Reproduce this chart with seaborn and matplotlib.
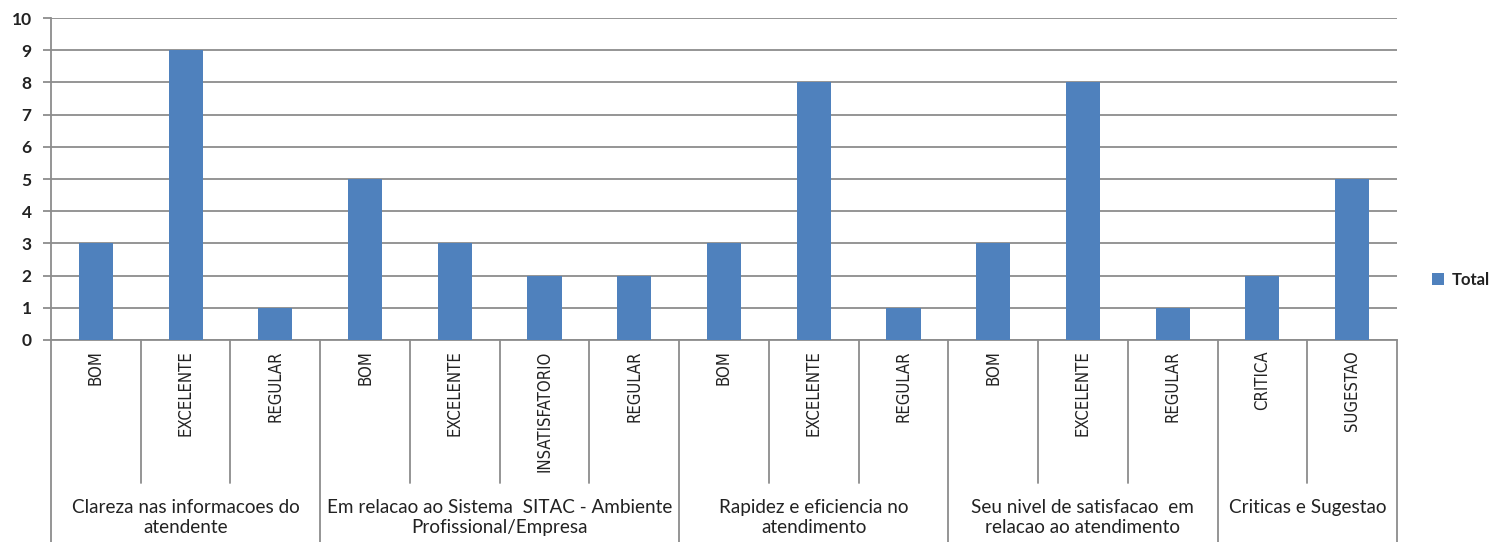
import pandas as pd
import matplotlib.pyplot as plt
import matplotlib.transforms as mtransforms
import seaborn as sns

# data
grupos = ["Clareza nas informacoes do\natendente",
          "Em relacao ao Sistema  SITAC - Ambiente\nProfissional/Empresa",
          "Rapidez e eficiencia no\natendimento",
          "Seu nivel de satisfacao  em\nrelacao ao atendimento",
          "Criticas e Sugestao"]
respostas = [["BOM", "EXCELENTE", "REGULAR"],
             ["BOM", "EXCELENTE", "INSATISFATORIO", "REGULAR"],
             ["BOM", "EXCELENTE", "REGULAR"],
             ["BOM", "EXCELENTE", "REGULAR"],
             ["CRITICA", "SUGESTAO"]]
totais = [[3, 9, 1],
          [5, 3, 2, 2],
          [3, 8, 1],
          [3, 8, 1],
          [2, 5]]

rows = []
for g, resp, tot in zip(grupos, respostas, totais):
    for r, t in zip(resp, tot):
        rows.append({"chave": g + "|" + r, "grupo": g, "resposta": r, "total": t})
df = pd.DataFrame(rows)

sns.set_style("white")
plt.rcParams['font.family'] = ['Lato', 'DejaVu Sans']

fig = plt.figure(figsize=(15.03, 5.42), dpi=100)
ax = fig.add_axes([51 / 1503, 1 - 340 / 542, (1397 - 51) / 1503, (340 - 18) / 542])

sns.barplot(data=df, x="chave", y="total", color="#4F81BD", width=0.38,
            saturation=1, label="Total", ax=ax, zorder=3, linewidth=0)

ax.set_ylim(0, 10)
ax.set_xlim(-0.5, len(df) - 0.5)
ax.set_yticks(range(0, 11))
ax.yaxis.grid(True, color="#8c8c8c", linewidth=1.3, zorder=0)
ax.set_xlabel("")
ax.set_ylabel("")
for s in ["top", "right"]:
    ax.spines[s].set_visible(False)
ax.spines["left"].set_color("#8c8c8c")
ax.spines["bottom"].set_color("#8c8c8c")
ax.spines["left"].set_linewidth(1.3)
ax.spines["bottom"].set_linewidth(1.3)
ax.tick_params(axis="y", left=True, length=6, color="#8c8c8c", width=1.3,
               labelsize=12.5, pad=8)
for lab in ax.get_yticklabels():
    lab.set_fontweight("bold")
    lab.set_color("#222222")

ax.set_xticks(range(len(df)))
ax.set_xticklabels(df["resposta"], rotation=90, va="top", ha="center",
                   fontsize=12, family="DejaVu Sans", fontstretch="condensed",
                   color="#222222")
ax.tick_params(axis="x", bottom=False, pad=4)

# separators of the category axis
tr = mtransforms.blended_transform_factory(ax.transData, ax.transAxes)
pos = -0.5
bounds = [pos]
for resp in respostas:
    for i in range(len(resp)):
        pos += 1
        if i < len(resp) - 1:
            ax.plot([pos, pos], [0, -0.444], transform=tr, color="#8c8c8c",
                    lw=1.3, clip_on=False)
    bounds.append(pos)
for b in bounds:
    ax.plot([b, b], [0, -0.63], transform=tr, color="#8c8c8c", lw=1.3, clip_on=False)
for g, a, b in zip(grupos, bounds[:-1], bounds[1:]):
    ax.text((a + b) / 2, -0.495, g, transform=tr, ha="center", va="top",
            fontsize=13.6, color="#222222", linespacing=1.2)

leg = ax.legend(loc="center left", bbox_to_anchor=(1.015, 0.186), frameon=False,
                handlelength=0.7, handleheight=0.7, handletextpad=0.5,
                prop={"size": 12, "weight": "bold"})
for t in leg.get_texts():
    t.set_color("#222222")

fig.savefig("out.png", dpi=100)
